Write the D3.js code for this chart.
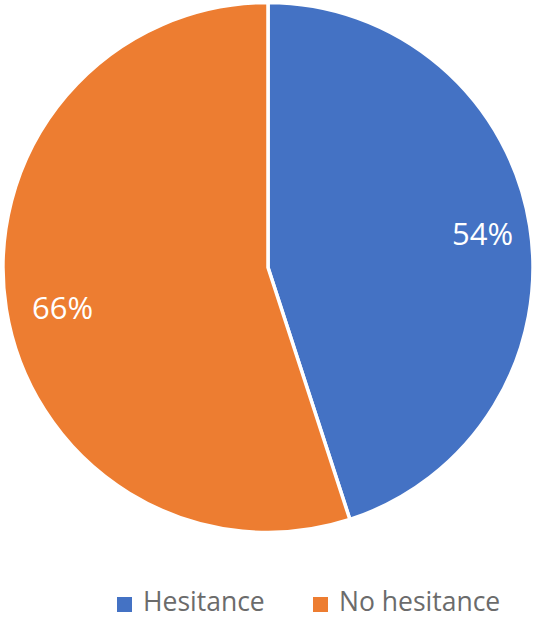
<!DOCTYPE html>
<html>
<head>
<meta charset="utf-8">
<script src="https://cdn.jsdelivr.net/npm/d3@7"></script>
<style>
  body { margin: 0; background: #fff; }
  svg { display: block; font-family: "Open Sans", sans-serif; }
</style>
</head>
<body>
<div id="chart"></div>
<script>
// data
const categories = ['Hesitance', 'No hesitance'];
const values = [54, 66];
const colors = ['#4472C4', '#ED7D31'];

const width = 536;
const height = 618;
const cx = 268;
const cy = 267.5;
const radius = 265;
// label distance from centre, as share of radius, per slice
const labelPos = [0.82, 0.785];

const svg = d3.select('#chart').append('svg')
  .attr('width', width)
  .attr('height', height);

const pie = d3.pie().sort(null).value(d => d.value);
const arcs = pie(categories.map((c, i) => ({name: c, value: values[i]})));

const arc = d3.arc().innerRadius(0).outerRadius(radius);
const labelArc = (d, i) => d3.arc()
  .innerRadius(radius * labelPos[i])
  .outerRadius(radius * labelPos[i])
  .centroid(d);

const g = svg.append('g').attr('transform', `translate(${cx},${cy})`);

g.selectAll('path.slice')
  .data(arcs)
  .join('path')
  .attr('class', 'slice')
  .attr('d', arc)
  .attr('fill', (d, i) => colors[i])
  .attr('stroke', '#fff')
  .attr('stroke-width', 3.5)
  .attr('stroke-linejoin', 'round');

g.selectAll('text.label')
  .data(arcs)
  .join('text')
  .attr('class', 'label')
  .attr('transform', (d, i) => `translate(${labelArc(d, i)})`)
  .attr('text-anchor', 'middle')
  .attr('dy', (d, i) => i === 1 ? '0.6em' : '0.36em')
  .style('font-size', '31px')
  .style('fill', '#fff')
  .text(d => `${d.data.value}%`);

// legend
const legendX = [117, 313];
const legend = svg.append('g').attr('class', 'legend');
const item = legend.selectAll('g')
  .data(categories)
  .join('g')
  .attr('transform', (d, i) => `translate(${legendX[i]}, 597)`);
item.append('rect')
  .attr('width', 15)
  .attr('height', 15)
  .attr('fill', (d, i) => colors[i]);
item.append('text')
  .attr('x', 26)
  .attr('y', 14)
  .style('font-size', '26.5px')
  .style('fill', '#6b6b6b')
  .text(d => d);
</script>
</body>
</html>
